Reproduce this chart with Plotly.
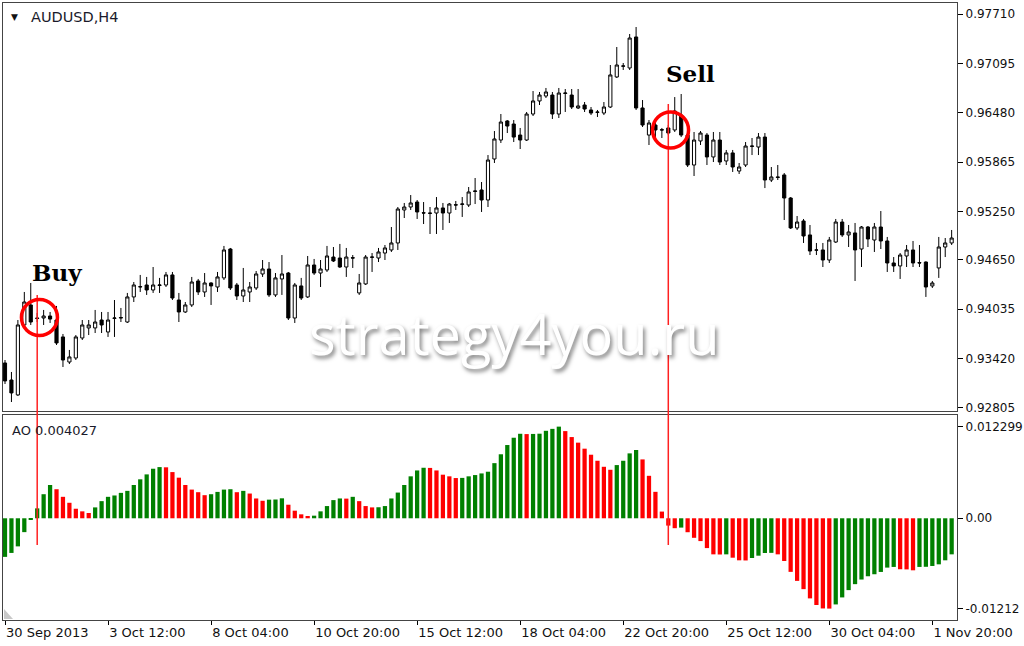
import plotly.graph_objects as go

# ---------------- data ----------------
opens = [0.93365,0.93153,0.92967,0.93838,0.94087,0.93925,0.93925,0.93950,0.93900,0.93689,
         0.93377,0.93427,0.93676,0.93801,0.93801,0.93900,0.93751,0.93920,0.93925,0.93875,
         0.94187,0.94311,0.94336,0.94274,0.94330,0.94336,0.94461,0.94149,0.94000,0.94087,
         0.94386,0.94249,0.94361,0.94311,0.94424,0.94784,0.94336,0.94199,0.94249,0.94299,
         0.94473,0.94535,0.94212,0.94411,0.94485,0.93925,0.94324,0.94187,0.94585,0.94485,
         0.94523,0.94684,0.94672,0.94560,0.94675,0.94237,0.94349,0.94680,0.94672,0.94734,
         0.94772,0.94859,0.95270,0.95307,0.95369,0.95235,0.95232,0.95232,0.95295,0.95232,
         0.95335,0.95340,0.95332,0.95500,0.95519,0.95394,0.95905,0.96141,0.96378,0.96340,
         0.96203,0.96141,0.96465,0.96627,0.96689,0.96701,0.96465,0.96720,0.96701,0.96540,
         0.96577,0.96515,0.96490,0.96477,0.96552,0.96926,0.97060,0.97038,0.97424,0.96540,
         0.96203,0.96328,0.96270,0.96291,0.96266,0.96452,0.96203,0.95830,0.96129,0.96203,
         0.95930,0.96141,0.95880,0.95980,0.95755,0.95830,0.96060,0.96054,0.96178,0.95643,
         0.95681,0.95706,0.95419,0.95046,0.95133,0.94959,0.94770,0.94772,0.94647,0.94871,
         0.95120,0.94959,0.94984,0.94784,0.95058,0.94896,0.95058,0.94884,0.94610,0.94573,
         0.94697,0.94772,0.94615,0.94622,0.94324,0.94548,0.94809,0.94859]
highs = [0.93402,0.93253,0.93900,0.94249,0.94361,0.93988,0.94025,0.94000,0.94075,0.93726,
         0.93527,0.93713,0.93900,0.93900,0.94025,0.94000,0.94000,0.94149,0.94050,0.94237,
         0.94373,0.94461,0.94436,0.94560,0.94424,0.94498,0.94498,0.94237,0.94124,0.94436,
         0.94411,0.94485,0.94370,0.94498,0.94822,0.94797,0.94361,0.94548,0.94373,0.94510,
         0.94647,0.94622,0.94485,0.94709,0.94498,0.94361,0.94424,0.94697,0.94660,0.94647,
         0.94822,0.94809,0.94847,0.94797,0.94709,0.94473,0.94709,0.94734,0.94797,0.94834,
         0.95058,0.95307,0.95357,0.95456,0.95394,0.95369,0.95307,0.95431,0.95357,0.95357,
         0.95382,0.95431,0.95556,0.95668,0.95618,0.95954,0.96253,0.96465,0.96390,0.96390,
         0.96291,0.96490,0.96751,0.96739,0.96789,0.96739,0.96789,0.96776,0.96776,0.96776,
         0.96614,0.96552,0.96515,0.96614,0.97075,0.97299,0.97100,0.97461,0.97548,0.96639,
         0.96390,0.96353,0.96291,0.96328,0.96676,0.96714,0.96228,0.96241,0.96253,0.96228,
         0.96241,0.96241,0.96017,0.96017,0.95855,0.96116,0.96166,0.96228,0.96228,0.95805,
         0.95830,0.95730,0.95431,0.95195,0.95158,0.95083,0.94859,0.94859,0.94934,0.95158,
         0.95158,0.95083,0.95108,0.95070,0.95070,0.95108,0.95257,0.94934,0.94684,0.94734,
         0.94834,0.94884,0.94834,0.94630,0.94386,0.94934,0.94921,0.95021]
lows = [0.93103,0.92879,0.92954,0.93825,0.93838,0.93875,0.93838,0.93863,0.93589,0.93315,
        0.93352,0.93402,0.93651,0.93713,0.93738,0.93738,0.93689,0.93689,0.93875,0.93863,
        0.94124,0.94249,0.94212,0.94237,0.94237,0.94311,0.94149,0.93875,0.93988,0.94062,
        0.94212,0.94187,0.94087,0.94249,0.94398,0.94274,0.94149,0.94124,0.94124,0.94274,
        0.94436,0.94187,0.94187,0.94212,0.93900,0.93863,0.94149,0.94174,0.94461,0.94311,
        0.94498,0.94622,0.94548,0.94436,0.94548,0.94212,0.94336,0.94498,0.94622,0.94647,
        0.94747,0.94772,0.95170,0.95270,0.95158,0.95095,0.94971,0.94971,0.95021,0.95108,
        0.95270,0.95183,0.95307,0.95344,0.95245,0.95307,0.95855,0.96104,0.96228,0.96116,
        0.96029,0.96129,0.96440,0.96577,0.96664,0.96403,0.96415,0.96490,0.96527,0.96527,
        0.96490,0.96452,0.96428,0.96452,0.96540,0.96913,0.97013,0.97013,0.96515,0.96303,
        0.96079,0.96178,0.96166,0.96203,0.96241,0.96178,0.95805,0.95693,0.96079,0.95830,
        0.95867,0.95830,0.95830,0.95743,0.95718,0.95805,0.95954,0.95954,0.95543,0.95618,
        0.95643,0.95145,0.95033,0.95021,0.94859,0.94709,0.94709,0.94560,0.94610,0.94859,
        0.94934,0.94809,0.94386,0.94560,0.94809,0.94747,0.94784,0.94498,0.94498,0.94411,
        0.94560,0.94560,0.94560,0.94187,0.94299,0.94424,0.94684,0.94834]
closes = [0.93141,0.92992,0.93838,0.94124,0.93875,0.93920,0.93950,0.93912,0.93614,0.93402,
          0.93440,0.93689,0.93838,0.93838,0.93875,0.93838,0.93900,0.93925,0.93930,0.94187,
          0.94336,0.94315,0.94274,0.94336,0.94336,0.94461,0.94174,0.94000,0.94087,0.94373,
          0.94249,0.94361,0.94324,0.94436,0.94772,0.94299,0.94199,0.94274,0.94311,0.94473,
          0.94535,0.94212,0.94424,0.94473,0.93925,0.94336,0.94174,0.94585,0.94485,0.94535,
          0.94697,0.94635,0.94560,0.94684,0.94672,0.94361,0.94684,0.94684,0.94747,0.94797,
          0.94859,0.95282,0.95307,0.95357,0.95245,0.95232,0.95228,0.95295,0.95232,0.95344,
          0.95332,0.95344,0.95494,0.95506,0.95394,0.95892,0.96154,0.96365,0.96315,0.96178,
          0.96141,0.96465,0.96627,0.96701,0.96739,0.96465,0.96726,0.96726,0.96552,0.96565,
          0.96527,0.96477,0.96486,0.96552,0.96951,0.97075,0.97063,0.97411,0.96540,0.96328,
          0.96353,0.96266,0.96266,0.96228,0.96502,0.96203,0.95830,0.96141,0.96228,0.95930,
          0.96141,0.95867,0.95980,0.95805,0.95805,0.96066,0.96066,0.96178,0.95643,0.95681,
          0.95676,0.95419,0.95046,0.95120,0.94946,0.94759,0.94772,0.94647,0.94896,0.95120,
          0.94959,0.94996,0.94772,0.95058,0.94909,0.95058,0.94884,0.94610,0.94573,0.94709,
          0.94772,0.94610,0.94610,0.94311,0.94361,0.94809,0.94859,0.94921]
ao_values = [-0.00518,-0.00465,-0.00377,-0.00186,-0.00010,0.00133,0.00323,0.00447,0.00390,0.00288,
             0.00208,0.00128,0.00093,0.00071,0.00146,0.00230,0.00288,0.00306,0.00341,0.00368,
             0.00447,0.00523,0.00589,0.00665,0.00687,0.00684,0.00620,0.00545,0.00447,0.00385,
             0.00350,0.00310,0.00323,0.00354,0.00385,0.00390,0.00350,0.00368,0.00332,0.00266,
             0.00235,0.00250,0.00252,0.00268,0.00182,0.00102,0.00053,0.00031,0.00035,0.00093,
             0.00164,0.00244,0.00266,0.00264,0.00288,0.00230,0.00164,0.00146,0.00148,0.00164,
             0.00266,0.00345,0.00447,0.00563,0.00642,0.00678,0.00676,0.00642,0.00585,0.00563,
             0.00540,0.00542,0.00563,0.00580,0.00602,0.00625,0.00740,0.00859,0.00983,0.01081,
             0.01134,0.01130,0.01132,0.01135,0.01174,0.01200,0.012299,0.01170,0.01090,0.01015,
             0.00934,0.00853,0.00772,0.00691,0.00651,0.00714,0.00772,0.00871,0.00916,0.00790,
             0.00570,0.00355,0.00090,-0.00098,-0.00133,-0.00125,-0.00187,-0.00262,-0.00306,-0.00400,
             -0.00484,-0.00486,-0.00484,-0.00529,-0.00564,-0.00566,-0.00533,-0.00502,-0.00466,-0.00464,
             -0.00484,-0.00573,-0.00719,-0.00840,-0.00951,-0.01075,-0.01164,-0.01210,-0.01212,-0.01156,
             -0.01062,-0.00964,-0.00884,-0.00822,-0.00778,-0.00751,-0.00720,-0.00662,-0.00653,-0.00684,
             -0.00686,-0.00698,-0.00653,-0.00651,-0.00640,-0.00618,-0.00564,-0.00484]

date_tick_bars = [0, 16, 32, 48, 64, 80, 96, 112, 128, 144]
date_tick_labels = ["30 Sep 2013", "3 Oct 12:00", "8 Oct 04:00", "10 Oct 20:00", "15 Oct 12:00",
                    "18 Oct 04:00", "22 Oct 20:00", "25 Oct 12:00", "30 Oct 04:00", "1 Nov 20:00"]
price_ticks = [0.97710, 0.97095, 0.96480, 0.95865, 0.95250, 0.94650, 0.94035, 0.93420, 0.92805]
price_tick_labels = ["0.97710", "0.97095", "0.96480", "0.95865", "0.95250",
                     "0.94650", "0.94035", "0.93420", "0.92805"]
ao_ticks = [0.012299, 0.0, -0.01212]
ao_tick_labels = ["0.012299", "0.00", "-0.01212"]
buy_bar = 5
sell_bar = 103

bars = list(range(len(opens)))
ao_colors = ["#008000"] + ["#008000" if ao_values[i] > ao_values[i - 1] else "#ff0000"
                           for i in range(1, len(ao_values))]

# ---------------- figure ----------------
W, H = 1024, 646
ML, MR, MT, MB = 3, 67, 3, 26
ph = H - MT - MB  # plot height in px

fig = go.Figure()
fig.add_trace(go.Candlestick(
    x=bars, open=opens, high=highs, low=lows, close=closes,
    xaxis="x2", yaxis="y",
    increasing=dict(line=dict(color="black", width=1), fillcolor="white"),
    decreasing=dict(line=dict(color="black", width=1), fillcolor="black"),
    whiskerwidth=0, showlegend=False, hoverinfo="skip"))
fig.add_trace(go.Bar(
    x=bars, y=ao_values, xaxis="x", yaxis="y2",
    marker=dict(color=ao_colors, line=dict(width=0)),
    width=0.66, showlegend=False, hoverinfo="skip"))

xr = [-0.31, 147.83]
axis_font = dict(family="DejaVu Sans", size=12, color="#111111")
frame = dict(showline=True, mirror=True, linecolor="#444444", linewidth=1.2)
fig.update_layout(
    width=W, height=H, autosize=False,
    margin=dict(l=ML, r=MR, t=MT, b=MB, autoexpand=False),
    paper_bgcolor="white", plot_bgcolor="white",
    xaxis=dict(domain=[0, 1], anchor="y2", range=xr, showgrid=False, zeroline=False,
               tickmode="array", tickvals=date_tick_bars, ticktext=date_tick_labels,
               ticks="outside", ticklen=4, tickcolor="black",
               ticklabelposition="outside right", automargin=False,
               tickfont=dict(family="DejaVu Sans", size=13, color="#111111"), **frame),
    xaxis2=dict(domain=[0, 1], anchor="y", matches="x", range=xr, showgrid=False,
                zeroline=False, showticklabels=False, ticks="",
                rangeslider=dict(visible=False), **frame),
    yaxis=dict(domain=[(H - MB - 411) / ph, 1], anchor="x2", side="right",
               range=[0.92767, 0.97847], showgrid=False, zeroline=False,
               tickmode="array", tickvals=price_ticks, ticktext=price_tick_labels,
               ticks="outside", ticklen=5, tickcolor="black", tickfont=axis_font,
               automargin=False, **frame),
    yaxis2=dict(domain=[0, (H - MB - 415) / ph], anchor="x", side="right",
                range=[-0.01365, 0.01386], showgrid=False, zeroline=False,
                tickmode="array", tickvals=ao_ticks, ticktext=ao_tick_labels,
                ticks="outside", ticklen=5, tickcolor="black", tickfont=axis_font,
                automargin=False, **frame),
)

def px_x(x):
    return (x - ML) / (W - ML - MR)

def px_y(y):
    return (H - MB - y) / ph

buy_mid = (highs[buy_bar] + lows[buy_bar]) / 2
sell_mid = (highs[sell_bar] + lows[sell_bar]) / 2
shapes = [
    dict(type="line", xref="x2", yref="paper", x0=buy_bar, x1=buy_bar,
         y0=px_y(545), y1=px_y(295), line=dict(color="#ff2020", width=1.5)),
    dict(type="line", xref="x2", yref="paper", x0=sell_bar, x1=sell_bar,
         y0=px_y(545), y1=px_y(104), line=dict(color="#ff2020", width=1.5)),
    dict(type="circle", xref="x2", yref="y", xsizemode="pixel", ysizemode="pixel",
         xanchor=buy_bar + 0.35, yanchor=buy_mid, x0=-18, x1=18, y0=-18, y1=18,
         line=dict(color="#ff0000", width=3.5)),
    dict(type="circle", xref="x2", yref="y", xsizemode="pixel", ysizemode="pixel",
         xanchor=sell_bar + 0.35, yanchor=sell_mid, x0=-18, x1=18, y0=-18, y1=18,
         line=dict(color="#ff0000", width=3.5)),
    dict(type="path", xref="paper", yref="paper",
         path=f"M {px_x(4)},{px_y(619)} L {px_x(13)},{px_y(619)} L {px_x(4)},{px_y(609)} Z",
         fillcolor="#c8c8c8", line=dict(width=0)),
]
fig.update_layout(shapes=shapes)

annotations = [
    dict(text="▼", xref="paper", yref="paper", x=px_x(9), y=px_y(17), xanchor="left",
         yanchor="middle", showarrow=False, font=dict(family="DejaVu Sans", size=9, color="#111111")),
    dict(text="AUDUSD,H4", xref="paper", yref="paper", x=px_x(29), y=px_y(17), xanchor="left",
         yanchor="middle", showarrow=False, font=dict(family="DejaVu Sans", size=14.5, color="#1a1a2a")),
    dict(text="AO 0.004027", xref="paper", yref="paper", x=px_x(10), y=px_y(430), xanchor="left",
         yanchor="middle", showarrow=False, font=dict(family="DejaVu Sans", size=13, color="#1a1a2a")),
    dict(text="Buy", xref="paper", yref="paper", x=px_x(57), y=px_y(272), xanchor="center",
         yanchor="middle", showarrow=False,
         font=dict(family="DejaVu Serif", size=23, color="black", weight="bold")),
    dict(text="Sell", xref="paper", yref="paper", x=px_x(690), y=px_y(74), xanchor="center",
         yanchor="middle", showarrow=False,
         font=dict(family="DejaVu Serif", size=23, color="black", weight="bold")),
    dict(text="strategy4you.ru", xref="paper", yref="paper", x=px_x(514), y=px_y(333),
         xanchor="center", yanchor="middle", showarrow=False,
         font=dict(family="Open Sans", size=56, color="white",
                   shadow="2px 3px 4px rgba(0,0,0,0.5)")),
]
fig.update_layout(annotations=annotations)

fig.write_html("out.html", config={"displayModeBar": False},
               post_script="document.body.style.margin='0px';document.body.style.overflow='hidden';")
